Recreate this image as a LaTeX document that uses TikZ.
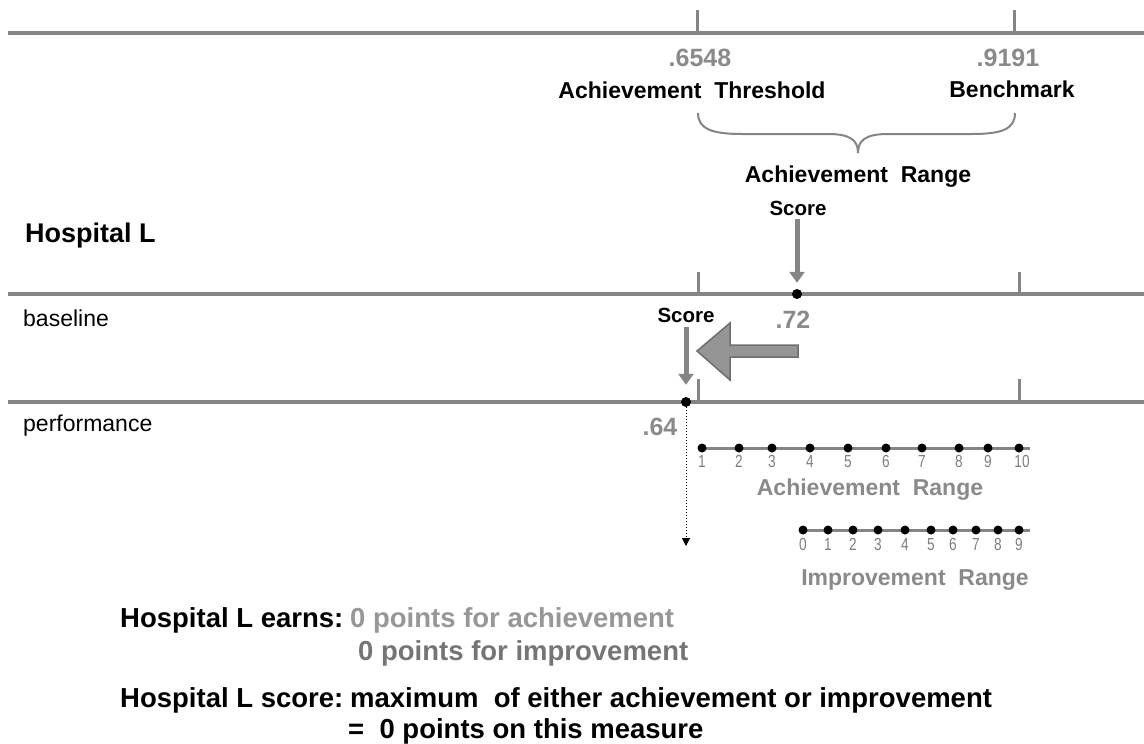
\documentclass[tikz,border=0pt]{standalone}
\usepackage{fontspec}
\setmainfont{Liberation Sans}
\newfontfamily\narrowdigits[FakeStretch=0.78]{Liberation Sans}
\usetikzlibrary{arrows.meta}
\definecolor{linegray}{HTML}{858585}
\definecolor{graytext}{HTML}{8A8A8A}
\definecolor{digitgray}{HTML}{7E7E7E}
\definecolor{lightgraytext}{HTML}{979797}
\definecolor{darkgraytext}{HTML}{757575}
\definecolor{arrowfill}{HTML}{959595}
\definecolor{arrowedge}{HTML}{6E6E6E}
\tikzset{
  axisline/.style={draw=linegray, line width=3.5pt},
  tickline/.style={draw=linegray, line width=3pt},
  scaleline/.style={draw=linegray, line width=3pt},
  lbl/.style={inner sep=0pt, anchor=base},
  lblw/.style={inner sep=0pt, anchor=base west},
  bigb/.style={font=\fontsize{23}{28}\selectfont\bfseries},
  numg/.style={font=\fontsize{25}{30}\selectfont\bfseries, text=graytext},
  scoret/.style={font=\fontsize{20.5}{24}\selectfont\bfseries},
  rowlbl/.style={font=\fontsize{23}{28}\selectfont},
  hosp/.style={font=\fontsize{27}{32}\selectfont\bfseries},
  bottomtxt/.style={font=\fontsize{27.5}{32}\selectfont\bfseries},
  digit/.style={font=\narrowdigits\fontsize{17.5}{21}\selectfont, text=digitgray, inner sep=0pt, anchor=base},
  bigdot/.style={circle, fill=black, inner sep=0pt, minimum size=10pt},
  smalldot/.style={circle, fill=black, inner sep=0pt, minimum size=9pt},
  scorearrow/.style={draw=linegray, line width=5pt, -{Triangle[length=11pt,width=15pt]}},
  blockarrow/.style={fill=arrowfill, draw=arrowedge, line width=1.5pt, line join=miter},
  dropline/.style={draw=black, dotted, line width=1pt, -{Triangle[length=8pt,width=8pt]}}
}
\begin{document}
\begin{tikzpicture}[x=1pt,y=-1pt]
\useasboundingbox (0,0) rectangle (1144,744);

% top axis
\draw[axisline] (8,33) -- (1144,33);
\draw[tickline] (697,10) -- (697,33);
\draw[tickline] (1014,10) -- (1014,33);
\node[lbl, numg] (thv) at (700,66) {.6548};
\node[lbl, bigb] (thl) at (692,98) {Achievement\ \ Threshold};
\node[lbl, numg] (bmv) at (1008,66) {.9191};
\node[lbl, bigb] (bml) at (1012,97) {Benchmark};

% brace
\draw[draw=linegray, line width=2pt]
  (698,113) .. controls (698,129) and (712,134) .. (742,134) -- (828,134)
  .. controls (850,134) and (858,140) .. (858,153)
  .. controls (858,140) and (866,134) .. (888,134) -- (972,134)
  .. controls (1002,134) and (1015,129) .. (1015,113);
\node[lbl, bigb] (arng) at (858,182) {Achievement\ \ Range};

% hospital label
\node[lblw, hosp] (hosp) at (25,242) {Hospital L};

% baseline axis
\draw[axisline] (8,294) -- (1144,294);
\draw[tickline] (698,272) -- (698,294);
\draw[tickline] (1019,272) -- (1019,294);
\node[lblw, rowlbl] (bl) at (23,326) {baseline};
\node[bigdot] (s1) at (797,294) {};
\node[lbl, scoret] (scA) at (798,215) {Score};
\draw[scorearrow, shorten <=4pt, shorten >=6pt] (scA.south -| s1) -- (s1.north);
\node[lbl, numg] (v72) at (793,328) {.72};

% big left arrow
\draw[blockarrow] (697,351) -- (730,323) -- (730,345) -- (798,345) -- (798,357)
  -- (730,357) -- (730,380) -- cycle;

% performance axis
\draw[axisline] (8,402) -- (1144,402);
\draw[tickline] (698,379) -- (698,402);
\draw[tickline] (1019,379) -- (1019,402);
\node[lblw, rowlbl] (pf) at (23,431) {performance};
\node[bigdot] (s2) at (686,402) {};
\node[lbl, scoret] (scB) at (686,322) {Score};
\draw[scorearrow, shorten <=5pt, shorten >=12pt] (scB.south -| s2) -- (s2.north);
\node[lbl, numg] (v64) at (660,435) {.64};

% dotted drop
\coordinate (dend) at (686,546);
\draw[dropline] (s2.south) -- (dend);

% achievement scale
\draw[scaleline] (700,448) -- (1030,448);
\foreach \x/\n in {702/1,739/2,772/3,810/4,848/5,886/6,922/7,959/8,988/9,1019/10}{
  \node[smalldot] (ad\n) at (\x,448) {};
}
\foreach \x/\n in {702/1,739/2,772/3,810/4,848/5,886/6,922/7,959/8,988/9,1022/10}{
  \node[digit] (al\n) at (\x,467) {\n};
}
\node[lbl, bigb, text=graytext] (arng2) at (870,495) {Achievement\ \ Range};

% improvement scale
\draw[scaleline] (803,530) -- (1030,530);
\foreach \x/\n in {803/0,828/1,853/2,878/3,905/4,931/5,953/6,976/7,998/8,1019/9}{
  \node[smalldot] (id\n) at (\x,530) {};
  \node[digit] (il\n) at (\x,550) {\n};
}
\node[lbl, bigb, text=graytext] (irng) at (915,585) {Improvement\ \ Range};

% bottom text
\node[lblw, bottomtxt] (e1) at (120,627) {Hospital L earns:};
\node[lblw, bottomtxt, text=lightgraytext] (e2) at (350,627) {0 points for achievement};
\node[lblw, bottomtxt, text=darkgraytext] (e3) at (358,660) {0 points for improvement};
\node[lblw, bottomtxt] (f1) at (120,707) {Hospital L score:};
\node[lblw, bottomtxt] (f2) at (350,707) {maximum\ \ of either achievement or improvement};
\node[lblw, bottomtxt] (f3) at (348,738) {=\ \ 0 points on this measure};
\end{tikzpicture}
\end{document}
